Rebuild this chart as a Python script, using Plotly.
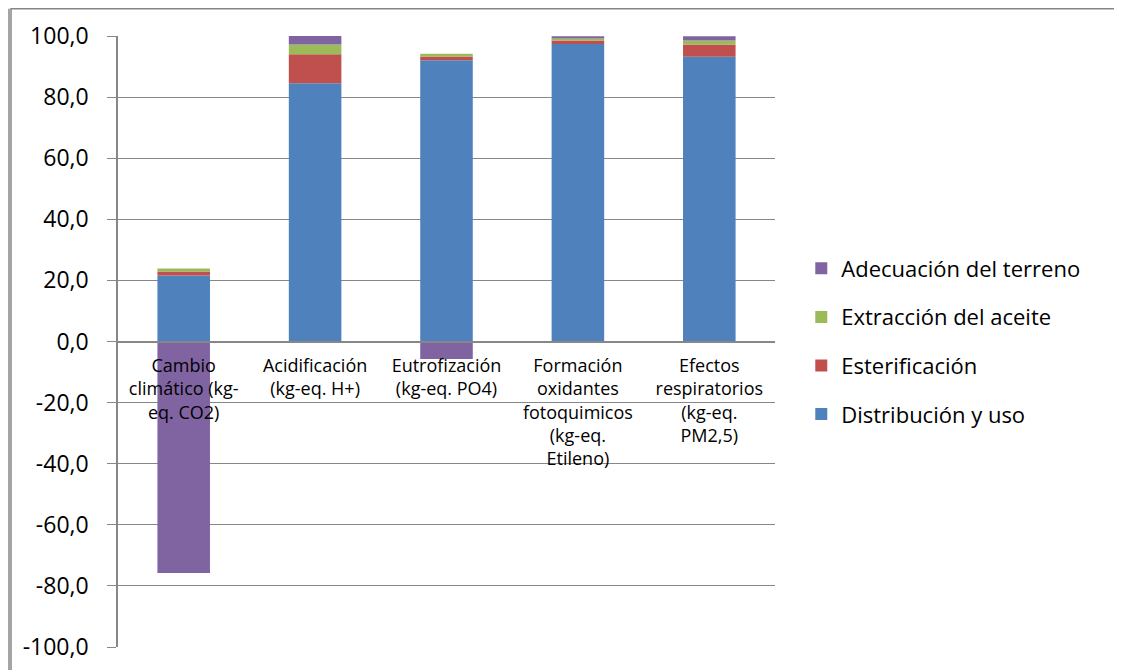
import plotly.graph_objects as go

categorias = [
    "Cambio<br>climático (kg-<br>eq. CO2)",
    "Acidificación<br>(kg-eq. H+)",
    "Eutrofización<br>(kg-eq. PO4)",
    "Formación<br>oxidantes<br>fotoquimicos<br>(kg-eq.<br>Etileno)",
    "Efectos<br>respiratorios<br>(kg-eq.<br>PM2,5)",
]
distribucion = [21.6, 84.5, 92.1, 97.4, 93.2]
esterificacion = [1.3, 9.5, 1.2, 1.1, 4.0]
extraccion = [1.0, 3.2, 0.9, 0.7, 1.3]
adecuacion = [-75.8, 2.8, -5.7, 0.7, 1.4]
y_ticks = [-100, -80, -60, -40, -20, 0, 20, 40, 60, 80, 100]
y_ticktext = [f"{v:.1f}".replace(".", ",") for v in y_ticks]

series = [
    ("Distribución y uso", distribucion, "#4F81BD"),
    ("Esterificación", esterificacion, "#C0504D"),
    ("Extracción del aceite", extraccion, "#9BBB59"),
    ("Adecuación del terreno", adecuacion, "#8064A2"),
]

fig = go.Figure()
for i, (name, vals, color) in enumerate(series):
    fig.add_trace(go.Bar(
        x=categorias, y=vals, name=name,
        marker=dict(color=color, line=dict(width=0)),
        legendgroup=f"g{i}",
        legendrank=len(series) - i,
    ))

# page is offset 8px by the body margin; plot area = 110..767 x 28..639 in figure px
L, T, W, H = 110, 28, 657, 611
frame = dict(color="#878787", width=1.5)
fig.add_shape(type="rect", xref="paper", yref="paper",
              x0=(3 - L) / W, x1=(1111 - L) / W,
              y0=-0.2, y1=(T + H - 0.75) / H,
              line=frame, layer="below")
fig.add_shape(type="line", xref="paper", yref="paper",
              x0=(1 - L) / W, x1=(1 - L) / W,
              y0=-0.2, y1=(T + H - 0.75) / H,
              line=frame, layer="above")

fig.update_layout(
    barmode="relative",
    bargap=0.6,
    width=1122, height=670,
    margin=dict(l=L, r=1122 - L - W, t=T, b=670 - T - H),
    plot_bgcolor="white", paper_bgcolor="white",
    font=dict(family="Open Sans, sans-serif", color="#000000", size=18),
    legend=dict(
        x=1.04, xanchor="left", y=0.5, yanchor="middle",
        traceorder="grouped", tracegroupgap=17,
        font=dict(size=22),
        itemwidth=30,
    ),
    xaxis=dict(
        anchor="free", position=0.5,
        showline=True, linecolor="#878787", linewidth=1.5,
        tickfont=dict(size=18), ticks="", ticklabelstandoff=8,
        showgrid=False,
    ),
    yaxis=dict(
        range=[-100, 100], tickvals=y_ticks, ticktext=y_ticktext,
        showgrid=True, gridcolor="#878787", gridwidth=1.2,
        showline=True, linecolor="#878787", linewidth=1.5,
        ticks="outside", ticklen=9, tickcolor="#878787",
        tickfont=dict(size=23), ticklabelstandoff=14, zeroline=False,
    ),
)

fig.write_html("out.html")
